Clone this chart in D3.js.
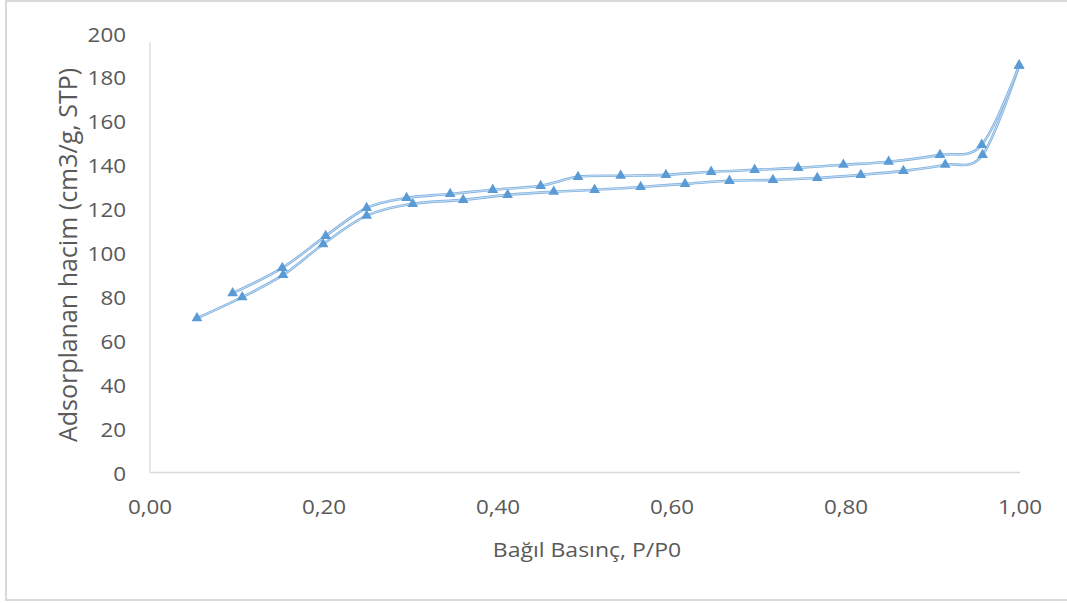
<!DOCTYPE html>
<html><head><meta charset="utf-8">
<script src="https://cdn.jsdelivr.net/npm/d3@7"></script>
<style>html,body{margin:0;padding:0;background:#fff;}svg{display:block;}</style>
</head><body>
<svg id="c" width="1067" height="603"></svg>
<script>
// Lower branch (adsorption)
const adsX = [0.054, 0.106, 0.153, 0.199, 0.249, 0.302, 0.360, 0.411, 0.464, 0.511, 0.564, 0.615, 0.666, 0.716, 0.767, 0.817, 0.866, 0.914, 0.957, 0.999];
const adsY = [70.3, 79.9, 90.0, 104.0, 117.0, 122.4, 124.2, 126.5, 127.9, 128.8, 130.1, 131.5, 132.9, 133.3, 134.2, 135.6, 137.4, 140.2, 144.7, 185.4];
// Upper branch (desorption)
const desX = [0.095, 0.152, 0.202, 0.249, 0.295, 0.345, 0.394, 0.449, 0.492, 0.541, 0.593, 0.645, 0.695, 0.745, 0.797, 0.849, 0.908, 0.956, 0.999];
const desY = [81.7, 93.2, 107.8, 120.5, 125.1, 126.9, 128.8, 130.6, 134.7, 135.2, 135.6, 137.0, 137.9, 138.8, 140.2, 141.6, 144.7, 149.3, 185.4];
const xTicks = [0, 0.2, 0.4, 0.6, 0.8, 1.0];
const yTicks = [0, 20, 40, 60, 80, 100, 120, 140, 160, 180, 200];
const xTitle = "Bağıl Basınç, P/P0";
const yTitle = "Adsorplanan hacim (cm3/g, STP)";

const svg = d3.select("#c");
const W = 1067, H = 603;
const m = {left: 150, right: 47, top: 33.5, bottom: 130.5};
const x = d3.scaleLinear().domain([0, 1]).range([m.left, W - m.right]);
const y = d3.scaleLinear().domain([0, 200]).range([H - m.bottom, m.top]);
const SX = 1.12;
const FONT = "'Open Sans', sans-serif";
const txtCol = "#595959";
const axCol = "#d9d9d9";
const serCol = "#5b9bd5";

// frame
svg.append("rect").attr("x", 6).attr("y", 1).attr("width", 1090).attr("height", 599)
  .attr("fill", "none").attr("stroke", axCol).attr("stroke-width", 2);

// axes lines
svg.append("line").attr("x1", x(0)).attr("x2", x(0)).attr("y1", y(196)).attr("y2", y(0))
  .attr("stroke", axCol).attr("stroke-width", 1.3);
svg.append("line").attr("x1", x(0)).attr("x2", x(1)).attr("y1", y(0)).attr("y2", y(0))
  .attr("stroke", axCol).attr("stroke-width", 1.3);

// y tick labels
svg.selectAll(".yt").data(yTicks).enter().append("text")
  .attr("transform", d => `translate(${x(0) - 24},${y(d)}) scale(${SX},1)`)
  .attr("text-anchor", "end").attr("dominant-baseline", "central")
  .attr("font-family", FONT).attr("font-size", 20).attr("fill", txtCol)
  .text(d => d);

// x tick labels
const fmt = d => d3.format(".2f")(d).replace(".", ",");
svg.selectAll(".xt").data(xTicks).enter().append("text")
  .attr("transform", d => `translate(${x(d)},${y(0) + 33}) scale(${SX},1)`)
  .attr("text-anchor", "middle").attr("dominant-baseline", "central")
  .attr("font-family", FONT).attr("font-size", 20).attr("fill", txtCol)
  .text(fmt);

// titles
svg.append("text")
  .attr("transform", `translate(${(x(0) + x(1)) / 2 + 2},${y(0) + 77}) scale(1.15,1)`)
  .attr("text-anchor", "middle").attr("dominant-baseline", "central")
  .attr("font-family", FONT).attr("font-size", 20).attr("fill", txtCol)
  .text(xTitle);
svg.append("text")
  .attr("transform", `translate(67,${(y(0) + y(200)) / 2 + 2}) scale(1.05,1) rotate(-90)`)
  .attr("text-anchor", "middle").attr("dominant-baseline", "central")
  .attr("font-family", FONT).attr("font-size", 25).attr("fill", txtCol)
  .text(yTitle);

// series
const series = [
  {xs: adsX, ys: adsY},
  {xs: desX, ys: desY}
];
const line = d3.line().x(d => x(d[0])).y(d => y(d[1])).curve(d3.curveCardinal.tension(0));
series.forEach(s => {
  const pts = s.xs.map((v, i) => [v, s.ys[i]]);
  const g = svg.append("g");
  g.append("path").attr("d", line(pts)).attr("fill", "none")
    .attr("stroke", "#80b2e0").attr("stroke-width", 2.6);
  g.append("path").attr("d", line(pts)).attr("fill", "none")
    .attr("stroke", "#dbe9f6").attr("stroke-width", 0.8);
  g.selectAll("path.m").data(pts).enter().append("path").attr("class", "m")
    .attr("d", d3.symbol().type(d3.symbolTriangle).size(50))
    .attr("transform", d => `translate(${x(d[0])},${y(d[1])})`)
    .attr("fill", serCol);
});
</script>
</body></html>
